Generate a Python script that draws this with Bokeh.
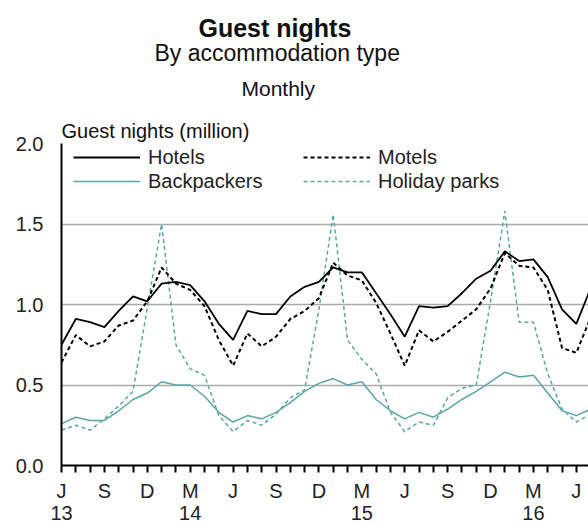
import pandas as pd
from bokeh.plotting import figure
from bokeh.models import (Range1d, FixedTicker, Title, Legend, LegendItem,
                          NumeralTickFormatter)
from bokeh.embed import file_html
from bokeh.resources import INLINE

# ---- data (million guest nights), monthly from June 2013 ----
start_month = "2013-06-01"
hotels = [0.75, 0.91, 0.89, 0.86, 0.96, 1.05, 1.02, 1.13, 1.14, 1.12, 1.02, 0.88,
          0.78, 0.96, 0.94, 0.94, 1.05, 1.11, 1.14, 1.23, 1.20, 1.20, 1.07, 0.94,
          0.80, 0.99, 0.98, 0.99, 1.07, 1.16, 1.21, 1.33, 1.27, 1.28, 1.17, 0.97,
          0.88, 1.10]
motels = [0.64, 0.81, 0.74, 0.77, 0.87, 0.90, 1.02, 1.23, 1.13, 1.09, 0.99, 0.78,
          0.62, 0.82, 0.74, 0.80, 0.91, 0.96, 1.04, 1.26, 1.18, 1.15, 1.01, 0.82,
          0.62, 0.84, 0.77, 0.83, 0.90, 0.97, 1.10, 1.32, 1.24, 1.23, 1.09, 0.73,
          0.70, 0.92]
backpackers = [0.26, 0.30, 0.28, 0.28, 0.34, 0.41, 0.45, 0.52, 0.50, 0.50, 0.43, 0.33,
               0.27, 0.31, 0.29, 0.33, 0.39, 0.46, 0.51, 0.54, 0.50, 0.52, 0.41, 0.34,
               0.29, 0.33, 0.30, 0.35, 0.41, 0.46, 0.52, 0.58, 0.55, 0.56, 0.45, 0.34,
               0.31, 0.35]
holiday_parks = [0.22, 0.25, 0.22, 0.29, 0.37, 0.46, 0.98, 1.50, 0.75, 0.60, 0.56, 0.31,
                 0.21, 0.28, 0.25, 0.32, 0.42, 0.47, 0.97, 1.56, 0.78, 0.66, 0.57, 0.33,
                 0.21, 0.27, 0.25, 0.42, 0.48, 0.50, 1.02, 1.58, 0.89, 0.89, 0.57, 0.35,
                 0.27, 0.32]
y_ticks = [0.0, 0.5, 1.0, 1.5, 2.0]
months_shown = 36.85

dates = pd.date_range(start_month, periods=len(hotels), freq="MS")
x = list(range(len(hotels)))

# tick labels: month letter every quarter; year under first point and under March
overrides = {}
for i, d in enumerate(dates):
    if d.month in (3, 6, 9, 12):
        lab = d.strftime("%b")[0]
        if i == 0 or d.month == 3:
            lab += "\n" + d.strftime("%y")
        overrides[i] = lab
    else:
        overrides[i] = ""

TEAL = "#5aa6a6"
FONT = "Liberation Sans"
W, H = 588, 526
LEFT, TOP, BOTTOM = 61, 143, 61

p = figure(width=W, height=H, output_backend="svg", toolbar_location=None,
           x_range=Range1d(0, months_shown), y_range=Range1d(0, 2.0),
           min_border_left=LEFT, min_border_right=0, min_border_top=TOP,
           min_border_bottom=BOTTOM)
p.outline_line_color = None
p.background_fill_color = "white"
p.border_fill_color = "white"

# titles (last added is on top)
titles = [
    ("Guest nights (million)", "20px", "normal", 0, 4),
    ("Monthly", "21px", "normal", 180, 32),
    ("By accommodation type", "23px", "normal", 93, -14),
    ("Guest nights", "25px", "bold", 137, 5),
]
for txt, fs, st, off, so in titles:
    p.add_layout(Title(text=txt, text_font=FONT, text_font_size=fs,
                       text_font_style=st, align="left", offset=off,
                       standoff=so, text_color="#111111"), "above")

# axes
p.xaxis.ticker = FixedTicker(ticks=x)
p.xaxis.major_label_overrides = overrides
p.xaxis.major_label_text_font = FONT
p.xaxis.major_label_text_font_size = "20px"
p.xaxis.major_label_text_line_height = 1.0
p.xaxis.major_label_text_color = "#222222"
p.xaxis.major_tick_out = 7
p.xaxis.major_tick_in = 0
p.xaxis.minor_tick_out = 0
p.xaxis.major_label_standoff = 7
p.xaxis.axis_line_width = 2
p.xaxis.major_tick_line_width = 2
p.xaxis.axis_line_color = "black"

p.yaxis.ticker = FixedTicker(ticks=y_ticks)
p.yaxis.formatter = NumeralTickFormatter(format="0.0")
p.yaxis.major_label_text_font = FONT
p.yaxis.major_label_text_font_size = "20px"
p.yaxis.major_label_text_color = "#222222"
p.yaxis.major_tick_out = 0
p.yaxis.major_tick_in = 0
p.yaxis.minor_tick_out = 0
p.yaxis.minor_tick_in = 0
p.yaxis.major_label_standoff = 18
p.yaxis.axis_line_width = 2
p.yaxis.axis_line_color = "black"

p.xgrid.grid_line_color = None
p.ygrid.ticker = FixedTicker(ticks=y_ticks[1:])
p.ygrid.grid_line_color = "#aaaaaa"
p.ygrid.grid_line_width = 1.5

# lines
r_hp = p.line(x, holiday_parks, line_color=TEAL, line_width=1.5, line_dash="4 3")
r_bp = p.line(x, backpackers, line_color=TEAL, line_width=1.5)
r_mo = p.line(x, motels, line_color="black", line_width=2, line_dash="4 3")
r_ho = p.line(x, hotels, line_color="black", line_width=1.8)

frame_h = H - TOP - BOTTOM


def make_legend(items, x_off):
    lg = Legend(items=items, location=(x_off, frame_h - 2 - 48))
    lg.margin = 0
    lg.padding = 0
    lg.spacing = 0
    lg.glyph_width = 67
    lg.glyph_height = 24
    lg.label_height = 24
    lg.label_standoff = 8
    lg.label_text_font = FONT
    lg.label_text_font_size = "20px"
    lg.label_text_color = "#222222"
    lg.background_fill_alpha = 0
    lg.border_line_color = None
    return lg


p.add_layout(make_legend([LegendItem(label="Hotels", renderers=[r_ho]),
                          LegendItem(label="Backpackers", renderers=[r_bp])], 12), "center")
p.add_layout(make_legend([LegendItem(label="Motels", renderers=[r_mo]),
                          LegendItem(label="Holiday parks", renderers=[r_hp])], 242), "center")

open("out.html", "w").write(file_html(p, INLINE))
